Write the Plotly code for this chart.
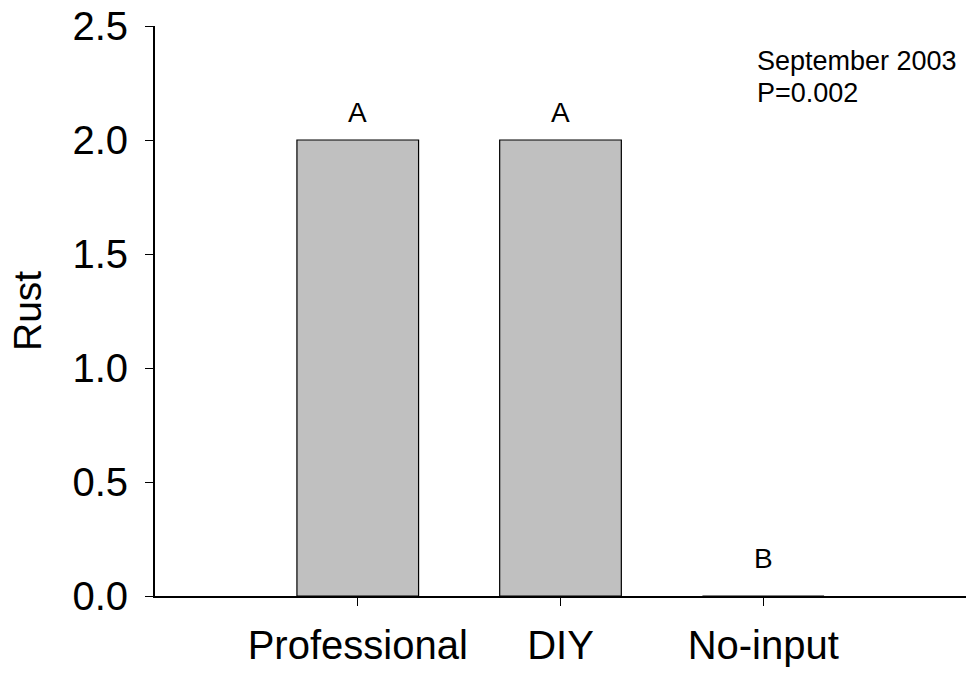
import plotly.graph_objects as go

# Rust rating by management group
treatments = ["Professional", "DIY", "No-input"]
rust = [2.0, 2.0, 0.0]
letters = ["A", "A", "B"]
y_ticks = [0.0, 0.5, 1.0, 1.5, 2.0, 2.5]
note_lines = ["September 2003", "P=0.002"]

FONT = "Liberation Sans, Arial, sans-serif"
W, H = 966, 673
ML, MR, MT, MB = 155, 0, 26, 77
plot_w = W - ML - MR
plot_h = H - MT - MB

fig = go.Figure()
fig.add_trace(go.Bar(
    x=treatments,
    y=rust,
    marker=dict(color="#c0c0c0", line=dict(color="black", width=1.2)),
    width=0.6,
    showlegend=False,
))

# significance letters above each bar
for t, v, lab in zip(treatments, rust, letters):
    fig.add_annotation(
        x=t, y=v, xref="x", yref="y", text=lab, showarrow=False,
        xanchor="center", yanchor="middle", yshift=28 if v > 0 else 38,
        font=dict(family=FONT, size=28, color="black"),
    )

# date / P-value note in the upper right
for i, line in enumerate(note_lines):
    cy = 61 + i * 32
    fig.add_annotation(
        x=(755 - ML) / plot_w, y=(MT + plot_h - cy) / plot_h,
        xref="paper", yref="paper", text=line, showarrow=False,
        xanchor="left", yanchor="middle",
        font=dict(family=FONT, size=27, color="black"),
    )

# y-axis title
fig.add_annotation(
    x=(27 - ML) / plot_w, y=0.5, xref="paper", yref="paper",
    text="Rust", textangle=-90, showarrow=False,
    xanchor="center", yanchor="middle",
    font=dict(family=FONT, size=39, color="black"),
)

fig.update_layout(
    width=W, height=H,
    margin=dict(l=ML, r=MR, t=MT, b=MB, autoexpand=False),
    plot_bgcolor="white", paper_bgcolor="white",
    font=dict(family=FONT, color="black"),
    bargap=0.4,
)
fig.update_xaxes(
    type="category", range=[-1, 3],
    showline=True, linecolor="black", linewidth=1.8,
    ticks="outside", ticklen=8, tickwidth=1.2, tickcolor="black",
    tickfont=dict(family=FONT, size=40, color="black"),
    ticklabelstandoff=5,
    showgrid=False, zeroline=False,
)
fig.update_yaxes(
    range=[0, 2.5], tickvals=y_ticks, tickformat=".1f",
    showline=True, linecolor="black", linewidth=1.8,
    ticks="outside", ticklen=8, tickwidth=1.2, tickcolor="black",
    tickfont=dict(family=FONT, size=40, color="black"),
    ticklabelstandoff=9,
    showgrid=False, zeroline=False,
)

fig.write_html("out.html")
